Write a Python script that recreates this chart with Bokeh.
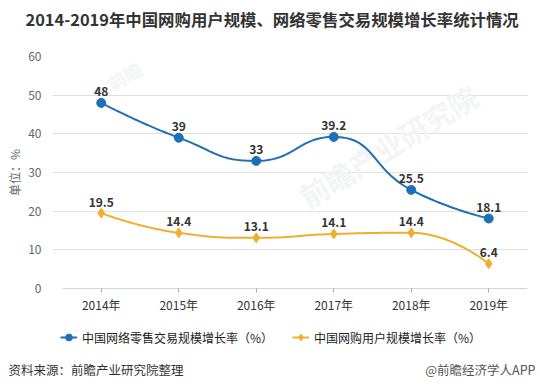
import math
import numpy as np
from bokeh.plotting import figure
from bokeh.layouts import column
from bokeh.models import Range1d, FixedTicker, Legend, LegendItem
from bokeh.core.properties import value
from bokeh.embed import file_html
from bokeh.resources import INLINE

# ---------------- data ----------------
years = ["2014年", "2015年", "2016年", "2017年", "2018年", "2019年"]
retail_growth = [48, 39, 33, 39.2, 25.5, 18.1]
user_growth = [19.5, 14.4, 13.1, 14.1, 14.4, 6.4]
retail_name = "中国网络零售交易规模增长率（%）"
user_name = "中国网购用户规模增长率（%）"
title_text = "2014-2019年中国网购用户规模、网络零售交易规模增长率统计情况"
y_label = "单位：%"
source_text = "资料来源：前瞻产业研究院整理"
brand_text = "@前瞻经济学人APP"
watermark_text = "前瞻产业研究院"
y_ticks = [0, 10, 20, 30, 40, 50, 60]

# ---------------- layout ----------------
FONT = "Noto Sans CJK SC"
BLUE = "#1f6fb6"
GOLD = "#f0ae2f"
W = 540
H_TITLE, H_MAIN, H_FOOT = 40, 282, 67
FL, FR, FT, FB = 52, 13, 16, 34
frame_w = W - FL - FR
frame_h = H_MAIN - FT - FB
n = len(years)
ext_px = 10
band = (frame_w - ext_px) / n
sx = band
sy = frame_h / (y_ticks[-1] - y_ticks[0])


def smooth_curve(xs, ys, smooth=0.5, samples=40):
    """ECharts-style constrained bezier smoothing, computed in pixel space."""
    P = [(x * sx, y * sy) for x, y in zip(xs, ys)]
    m = len(P)
    out_x, out_y = [P[0][0]], [P[0][1]]
    cp0 = P[0]
    for i in range(1, m):
        x, y = P[i]
        px, py = P[i - 1]
        if i == m - 1:
            cp1 = (x, y)
            ncp0 = None
        else:
            nx, ny = P[i + 1]
            vx, vy = nx - px, ny - py
            d0 = math.hypot(x - px, y - py)
            d1 = math.hypot(nx - x, ny - y)
            r = d1 / (d0 + d1)
            ncx = x + vx * smooth * r
            ncy = y + vy * smooth * r
            ncx = max(min(ncx, max(nx, x)), min(nx, x))
            ncy = max(min(ncy, max(ny, y)), min(ny, y))
            vx, vy = ncx - x, ncy - y
            c1x = x - vx * d0 / d1
            c1y = y - vy * d0 / d1
            c1x = max(min(c1x, max(px, x)), min(px, x))
            c1y = max(min(c1y, max(py, y)), min(py, y))
            vx, vy = x - c1x, y - c1y
            ncx = x + vx * d1 / d0
            ncy = y + vy * d1 / d0
            cp1 = (c1x, c1y)
            ncp0 = (ncx, ncy)
        t = np.linspace(0, 1, samples)[1:]
        a = (1 - t) ** 3
        b = 3 * (1 - t) ** 2 * t
        c = 3 * (1 - t) * t ** 2
        d = t ** 3
        bx = a * px + b * cp0[0] + c * cp1[0] + d * x
        by = a * py + b * cp0[1] + c * cp1[1] + d * y
        out_x.extend(bx.tolist())
        out_y.extend(by.tolist())
        cp0 = ncp0
    return [v / sx for v in out_x], [v / sy for v in out_y]


def blank_fig(h):
    f = figure(width=W, height=h, output_backend="svg", toolbar_location=None,
               x_range=Range1d(0, W), y_range=Range1d(0, h),
               x_axis_type=None, y_axis_type=None, min_border=0,
               outline_line_color=None, background_fill_color="white",
               border_fill_color="white", frame_align=False)
    f.grid.visible = False
    return f


xs = list(range(n))

# ---------------- title ----------------
pt = blank_fig(H_TITLE)
pt.text(x=[25], y=[H_TITLE - 18], text=[title_text], text_align="left",
        text_baseline="middle", text_font=value(FONT), text_font_size="16.4px",
        text_font_style="bold", text_color="#333333")

# ---------------- main chart ----------------
p = figure(width=W, height=H_MAIN, output_backend="svg", toolbar_location=None,
           x_range=Range1d(-0.5 - ext_px / band, n - 0.5),
           y_range=Range1d(y_ticks[0], y_ticks[-1]),
           min_border_left=FL, min_border_right=FR, min_border_top=FT,
           min_border_bottom=FB, outline_line_color=None,
           background_fill_color="white", border_fill_color="white",
           frame_align=False)

p.xgrid.grid_line_color = None
p.ygrid.ticker = FixedTicker(ticks=y_ticks)
p.ygrid.grid_line_color = "#e0e0e0"
p.ygrid.grid_line_width = 1

ya = p.yaxis[0]
ya.ticker = FixedTicker(ticks=y_ticks)
ya.axis_line_color = None
ya.major_tick_line_color = None
ya.minor_tick_line_color = None
ya.major_label_text_font = FONT
ya.major_label_text_font_size = "12px"
ya.major_label_text_color = "#666666"
ya.major_label_standoff = 5
ya.axis_label = y_label
ya.axis_label_text_font = FONT
ya.axis_label_text_font_size = "12px"
ya.axis_label_text_font_style = "normal"
ya.axis_label_text_color = "#666666"
ya.axis_label_standoff = 2

xa = p.xaxis[0]
xa.ticker = FixedTicker(ticks=xs)
xa.major_label_overrides = {i: years[i] for i in xs}
xa.axis_line_color = None
xa.major_tick_line_color = "#aaaaaa"
xa.major_tick_out = 4
xa.major_tick_in = 0
xa.minor_tick_line_color = None
xa.major_label_text_font = FONT
xa.major_label_text_font_size = "12px"
xa.major_label_text_color = "#333333"
xa.major_label_standoff = 3

# very faint watermark
p.text(x=[3.7], y=[37], text=[watermark_text], angle=0.55, text_align="center",
       text_baseline="middle", text_font=value(FONT), text_font_size="29px",
       text_font_style="bold", text_color="#f3f4f7")
p.text(x=[0.3], y=[55], text=["前瞻"], angle=0.55, text_align="center",
       text_baseline="middle", text_font=value(FONT), text_font_size="18px",
       text_font_style="bold", text_color="#f3f4f7")

# visible x axis line spanning the category bands
p.segment(x0=[xs[0] - 0.5], x1=[xs[-1] + 0.5], y0=[y_ticks[0]], y1=[y_ticks[0]],
          line_color="#aaaaaa", line_width=1)

bx, by = smooth_curve(xs, retail_growth)
p.line(bx, by, line_color=BLUE, line_width=2)
p.scatter(xs, retail_growth, marker="circle", size=9, fill_color=BLUE, line_color=BLUE)
gx, gy = smooth_curve(xs, user_growth)
p.line(gx, gy, line_color=GOLD, line_width=2)
p.scatter(xs, user_growth, marker="diamond", size=10, fill_color=GOLD, line_color=GOLD)

for vals in (retail_growth, user_growth):
    p.text(xs, vals, text=[f"{v:g}" for v in vals], text_align="center",
           text_baseline="alphabetic", y_offset=-11, text_font=value(FONT),
           text_font_size="12px", text_font_style="bold", text_color="#333333")

# ---------------- footer: legend + source ----------------
pf = blank_fig(H_FOOT)
nan = [float("nan")]
fl1 = pf.line(x=nan, y=nan, line_color=BLUE, line_width=2)
fs1 = pf.scatter(x=nan, y=nan, marker="circle", size=8, fill_color=BLUE, line_color=BLUE)
fl2 = pf.line(x=nan, y=nan, line_color=GOLD, line_width=2)
fs2 = pf.scatter(x=nan, y=nan, marker="diamond", size=9, fill_color=GOLD, line_color=GOLD)
legend = Legend(items=[LegendItem(label=retail_name, renderers=[fl1, fs1]),
                       LegendItem(label=user_name, renderers=[fl2, fs2])],
                orientation="horizontal", location=(60, H_FOOT - 15 - 10),
                padding=0, margin=0, spacing=19, glyph_width=17, glyph_height=20,
                label_height=20, label_standoff=5, label_text_font=FONT,
                label_text_font_size="12px", label_text_color="#222222",
                border_line_color=None, background_fill_alpha=0)
pf.add_layout(legend, "center")

pf.text(x=[8], y=[H_FOOT - 47], text=[source_text], text_align="left",
        text_baseline="middle", text_font=value(FONT), text_font_size="12.5px",
        text_color="#333333")
pf.text(x=[535], y=[H_FOOT - 47], text=[brand_text], text_align="right",
        text_baseline="middle", text_font=value(FONT), text_font_size="12.5px",
        text_color="#555555")

layout = column(pt, p, pf, spacing=0)
open("out.html", "w").write(file_html(layout, INLINE))
